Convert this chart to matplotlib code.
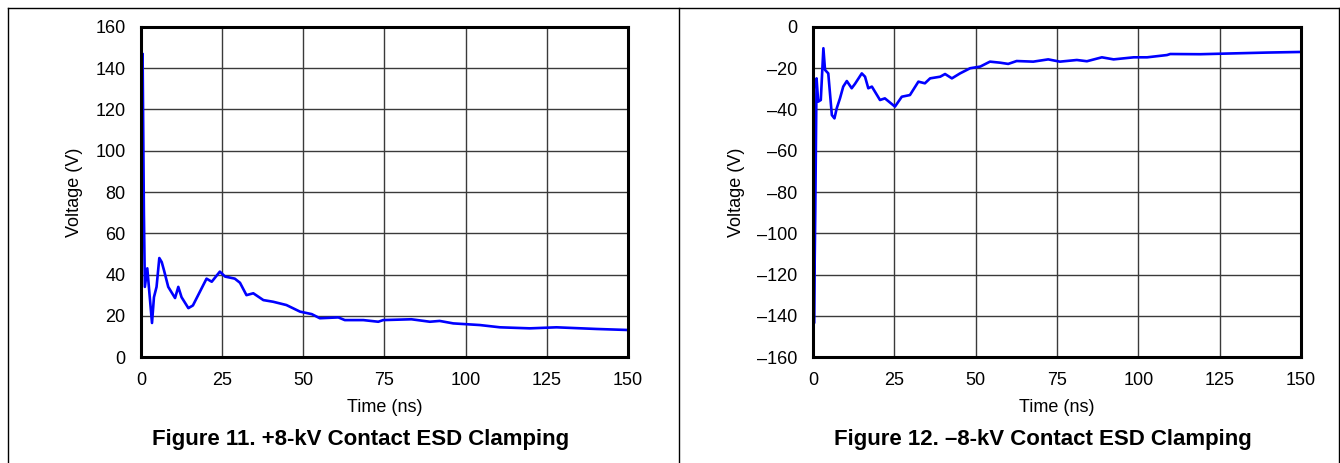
import numpy as np
import matplotlib.pyplot as plt
from matplotlib.lines import Line2D

plt.rcParams['font.family'] = ['Liberation Sans', 'DejaVu Sans']

# +8 kV contact discharge, clamped voltage
pos_time = [0, 0.2, 0.5, 0.9, 1.2, 1.95, 2.6, 3.4, 4.0, 4.8, 5.65, 6.4, 7.1, 8.4,
            9.95, 10.5, 11.5, 12.5, 14.6, 16.0, 20.2, 21.8, 24.3, 25.9, 28.9, 30.5,
            32.5, 34.6, 37.7, 40.7, 44.8, 49.0, 52.6, 55.1, 60.8, 62.8, 68.5, 73.1,
            74.6, 83.3, 89.0, 92.0, 96.2, 104.4, 110.6, 119.8, 128.0, 140.3, 150.0]
pos_volt = [0, 100, 147, 70, 34, 43, 31, 16.5, 29, 34, 48, 46, 42, 34,
            30, 28.6, 34, 29, 23.7, 25, 38, 36.5, 41.4, 39, 38, 36,
            30, 30.9, 27.6, 26.8, 25.2, 22, 20.8, 18.8, 19.2, 17.9, 17.9, 17.1,
            17.9, 18.3, 17.1, 17.5, 16.3, 15.5, 14.4, 13.9, 14.4, 13.6, 13.1]

# -8 kV contact discharge, clamped voltage
neg_time = [0, 0.15, 0.3, 0.7, 1.1, 1.6, 2.4, 3.2, 3.7, 4.7, 5.8, 6.6, 7.3, 8.3,
            9.3, 10.4, 11.9, 12.9, 15.0, 16.0, 17.0, 18.1, 20.6, 22.1, 25.2, 27.3,
            29.8, 32.4, 34.4, 36.0, 39.1, 40.6, 42.7, 45.2, 48.3, 51.4, 54.4, 57.5,
            60.0, 62.6, 67.7, 72.3, 75.9, 81.1, 84.2, 88.8, 92.4, 98.6, 102.7,
            108.8, 109.8, 119.0, 129.2, 139.5, 150.0]
neg_volt = [-5, -80, -143.7, -90, -24.9, -36.2, -35.4, -10.3, -20.8, -22.5, -42.7,
            -44.3, -39.4, -34.6, -28.9, -26.2, -29.7, -27.6, -22.5, -24.1, -29.7,
            -28.9, -35.4, -34.6, -38.6, -33.8, -33.0, -26.5, -27.3, -24.9, -24.1,
            -22.8, -24.9, -22.5, -20.0, -19.2, -16.8, -17.3, -17.9, -16.5, -16.8,
            -15.7, -16.8, -16.0, -16.6, -14.7, -15.7, -14.7, -14.7, -13.6, -13.1,
            -13.2, -12.8, -12.4, -12.1]

x_ticks = [0, 25, 50, 75, 100, 125, 150]
pos_ticks = [0, 20, 40, 60, 80, 100, 120, 140, 160]
neg_ticks = [-160, -140, -120, -100, -80, -60, -40, -20, 0]

captions = ["Figure 11. +8-kV Contact ESD Clamping",
            "Figure 12. \u20138-kV Contact ESD Clamping"]


def style_axis(ax, yticks):
    ax.set_xlim(0, 150)
    ax.set_ylim(yticks[0], yticks[-1])
    ax.set_xticks(x_ticks)
    ax.set_yticks(yticks)
    ax.set_yticklabels([str(v).replace('-', '\u2013') for v in yticks])
    ax.grid(True, color='#3a3a3a', linewidth=1.0)
    ax.set_axisbelow(True)
    ax.tick_params(length=0, labelsize=13, pad=11)
    for s in ax.spines.values():
        s.set_linewidth(2.2)
        s.set_color('black')
    ax.set_xlabel("Time (ns)", fontsize=13, labelpad=7)
    ax.set_ylabel("Voltage (V)", fontsize=13, labelpad=9)


fig = plt.figure(figsize=(13.40, 4.63), dpi=100)
ax1 = fig.add_axes([0.1052, 0.2289, 0.3634, 0.7128])
ax2 = fig.add_axes([0.6067, 0.2289, 0.3642, 0.7128])

ax1.plot(pos_time, pos_volt, color='#0000ff', linewidth=1.9)
ax2.plot(neg_time, neg_volt, color='#0000ff', linewidth=1.9)
style_axis(ax1, pos_ticks)
style_axis(ax2, neg_ticks)

fig.text(361 / 1340, 1 - 440 / 463, captions[0], ha='center', va='center',
         fontsize=16, fontweight='bold')
fig.text(1043 / 1340, 1 - 440 / 463, captions[1], ha='center', va='center',
         fontsize=16, fontweight='bold')

# frame around the two figures
W, H = 1340, 463
for xs, ys in [([8, 1339], [8, 8]), ([8, 8], [8, 463]),
               ([679, 679], [8, 463]), ([1339, 1339], [8, 463])]:
    fig.add_artist(Line2D([x / W for x in xs], [1 - y / H for y in ys],
                          color='black', linewidth=1.0))

fig.savefig("out.png", dpi=100)
